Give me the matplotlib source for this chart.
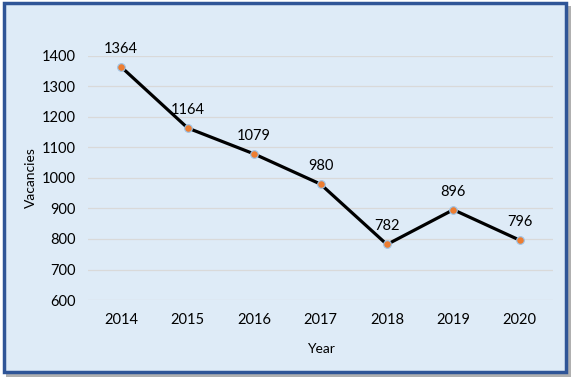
import matplotlib.pyplot as plt
from matplotlib.patches import Rectangle

years = ['2014', '2015', '2016', '2017', '2018', '2019', '2020']
vacancies = [1364, 1164, 1079, 980, 782, 896, 796]

plt.rcParams['font.family'] = ['Lato', 'DejaVu Sans']

bg = '#deebf7'
fig = plt.figure(figsize=(5.72, 3.77), dpi=100)
fig.patch.set_facecolor('white')

# shadow and chart border
fig.patches.append(Rectangle((6 / 572, 0), 565 / 572, 371 / 377, transform=fig.transFigure,
                             facecolor='#b0b0b0', edgecolor='none', zorder=0))
fig.patches.append(Rectangle((4 / 572, 5 / 377), 562 / 572, 369 / 377, transform=fig.transFigure,
                             facecolor=bg, edgecolor='#2f5597', linewidth=2.5, zorder=1))

ax = fig.add_axes([88 / 572, 1 - 300 / 377, 465 / 572, 244 / 377])
ax.set_zorder(5)
ax.set_facecolor('none')
x = range(len(years))
ax.plot(x, vacancies, color='black', linewidth=2.3, zorder=3)
ax.plot(x, vacancies, 'o', color='#ed7d31', markersize=5.5,
        markeredgecolor='#9dc3e6', markeredgewidth=0.8, zorder=4)

for i, v in zip(x, vacancies):
    ax.annotate(str(v), (i, v), xytext=(0, 8), textcoords='offset points',
                ha='center', va='bottom', fontsize=10.5)

ax.set_xlim(-0.5, len(years) - 0.5)
ax.set_ylim(600, 1400)
ax.set_yticks(range(600, 1401, 100))
ax.set_xticks(list(x))
ax.set_xticklabels(years)
ax.tick_params(length=0, labelsize=10.5, pad=9)
ax.tick_params(axis='y', pad=9)
ax.grid(axis='y', color='#d9d9d9', linewidth=0.9)
ax.set_axisbelow(True)
for s in ax.spines.values():
    s.set_visible(False)
ax.set_xlabel('Year', fontsize=10, labelpad=12)
ax.set_ylabel('Vacancies', fontsize=10)
ax.yaxis.set_label_coords(-0.11, 0.5)

fig.savefig('out.png', dpi=100, facecolor='white')
